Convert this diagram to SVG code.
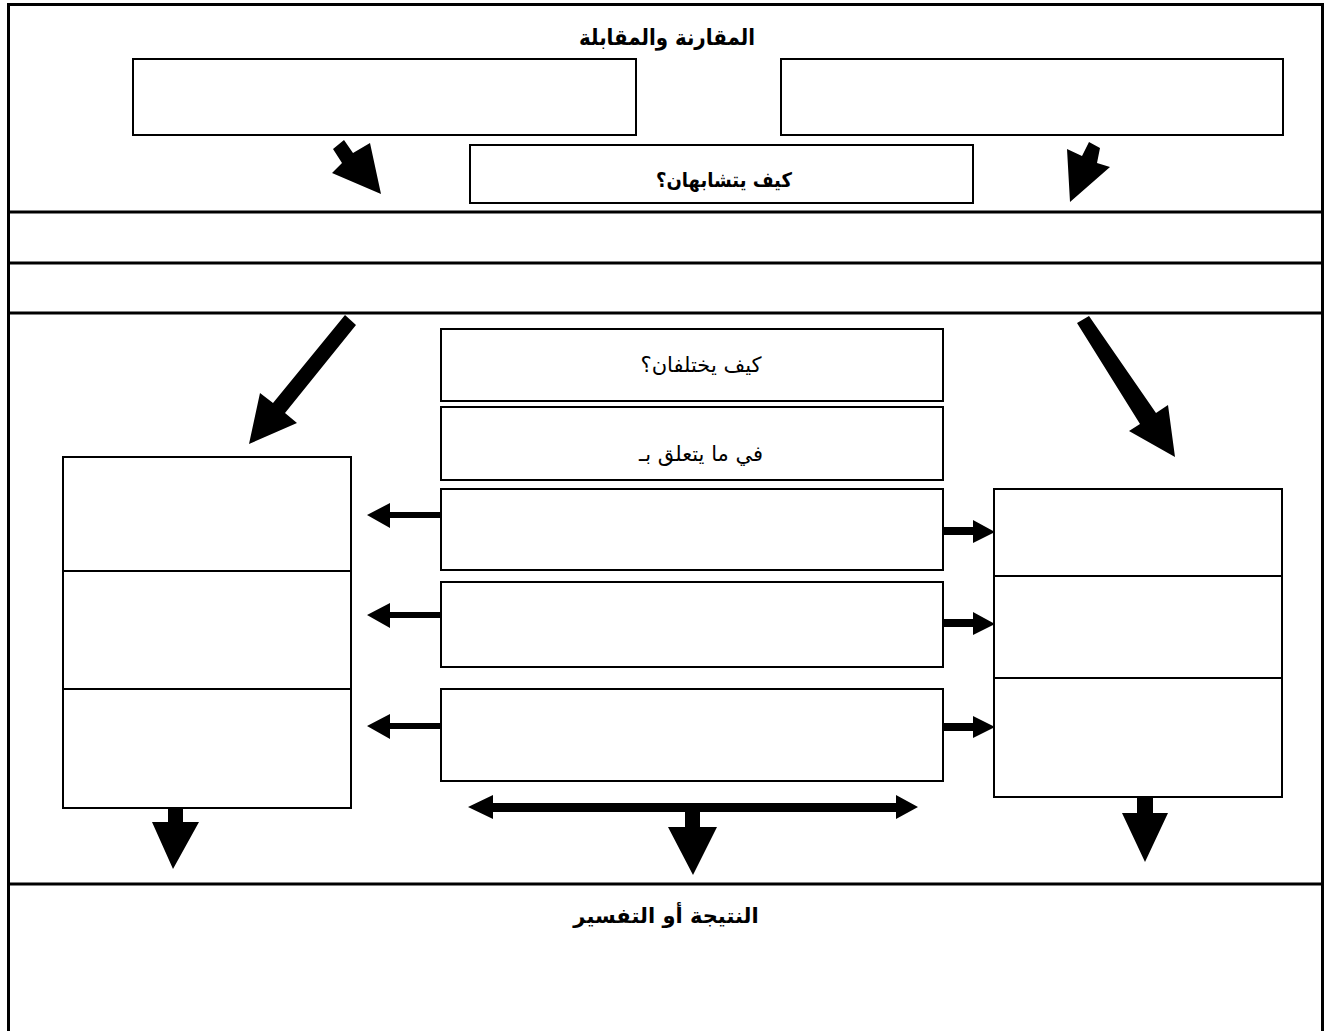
<svg xmlns="http://www.w3.org/2000/svg" width="1330" height="1031" viewBox="0 0 1330 1031">
<style>
.frame{fill:none;stroke:#000;stroke-width:3}
.box{fill:#fff;stroke:#000;stroke-width:2}
.arr{fill:#000;stroke:none}
.t{font-family:"DejaVu Sans",sans-serif;fill:#000;text-anchor:middle;direction:rtl}
.cond{font-family:"DejaVu Sans Condensed","DejaVu Sans",sans-serif;font-weight:bold}
</style>
<rect width="1330" height="1031" fill="#fff"/>
<g id="frame">
<path class="frame" d="M8.5,1031 V4.5 H1322.5 V1031"/>
<line class="frame" x1="8.5" y1="212" x2="1322.5" y2="212"/>
<line class="frame" x1="8.5" y1="263" x2="1322.5" y2="263"/>
<line class="frame" x1="8.5" y1="313" x2="1322.5" y2="313"/>
<line class="frame" x1="8.5" y1="884" x2="1322.5" y2="884"/>
</g>
<g id="title"><text class="t cond" style="font-size:22px" x="667" y="45">المقارنة والمقابلة</text></g>
<g id="top-left"><rect class="box" x="133" y="59" width="503" height="76"/></g>
<g id="top-right"><rect class="box" x="781" y="59" width="502" height="76"/></g>
<g id="similar"><rect class="box" x="470" y="145" width="503" height="58"/><text class="t cond" style="font-size:20px" x="724" y="187">كيف يتشابهان؟</text></g>
<g id="differ"><rect class="box" x="441" y="329" width="502" height="72"/><text class="t" style="font-size:21px" x="701" y="372">كيف يختلفان؟</text></g>
<g id="regarding"><rect class="box" x="441" y="407" width="502" height="73"/><text class="t" style="font-size:21px" x="701" y="461">في ما يتعلق بـ</text></g>
<g id="mid1"><rect class="box" x="441" y="489" width="502" height="81"/></g>
<g id="mid2"><rect class="box" x="441" y="582" width="502" height="85"/></g>
<g id="mid3"><rect class="box" x="441" y="689" width="502" height="92"/></g>
<g id="left1"><rect class="box" x="63" y="457" width="288" height="114"/></g>
<g id="left2"><rect class="box" x="63" y="571" width="288" height="118"/></g>
<g id="left3"><rect class="box" x="63" y="689" width="288" height="119"/></g>
<g id="right1"><rect class="box" x="994" y="489" width="288" height="87"/></g>
<g id="right2"><rect class="box" x="994" y="576" width="288" height="102"/></g>
<g id="right3"><rect class="box" x="994" y="678" width="288" height="119"/></g>
<g id="result"><text class="t" style="font-size:21px;font-weight:bold" x="666" y="923">النتيجة أو التفسير</text></g>
<g id="connectors">
<polygon class="arr" points="344,140 353,153 370,143 381,194 332,173 342,163 333,149"/>
<polygon class="arr" points="1089,142 1100,148 1097,163 1110,167 1070,202 1067,149 1082,156"/>
<polygon class="arr" points="345,315 356,325 285,413 297,423 249,444 260,393 273,403"/>
<polygon class="arr" points="1077,323 1089,316 1156,413 1168,405 1175,457 1129,431 1140,424"/>
<polygon class="arr" points="441,512 390,512 390,503 367,515 390,528 390,518 441,518"/>
<polygon class="arr" points="441,612 390,612 390,603 367,615 390,628 390,618 441,618"/>
<polygon class="arr" points="441,723 390,723 390,714 367,726 390,739 390,729 441,729"/>
<polygon class="arr" points="943,527 973,527 973,520 995,532 973,543 973,535 943,535"/>
<polygon class="arr" points="943,619 973,619 973,612 995,624 973,635 973,627 943,627"/>
<polygon class="arr" points="943,723 973,723 973,716 995,727 973,738 973,731 943,731"/>
<polygon class="arr" points="168,808 183,808 183,822 199,822 173,869 152,822 168,822"/>
<polygon class="arr" points="1137,797 1153,797 1153,813 1168,813 1145,862 1122,813 1137,813"/>
<polygon class="arr" points="468,807 493,795 493,803 896,803 896,795 918,807 896,819 896,812 700,812 700,827 717,827 693,875 668,827 685,827 685,812 493,812 493,819"/>
</g>
</svg>
